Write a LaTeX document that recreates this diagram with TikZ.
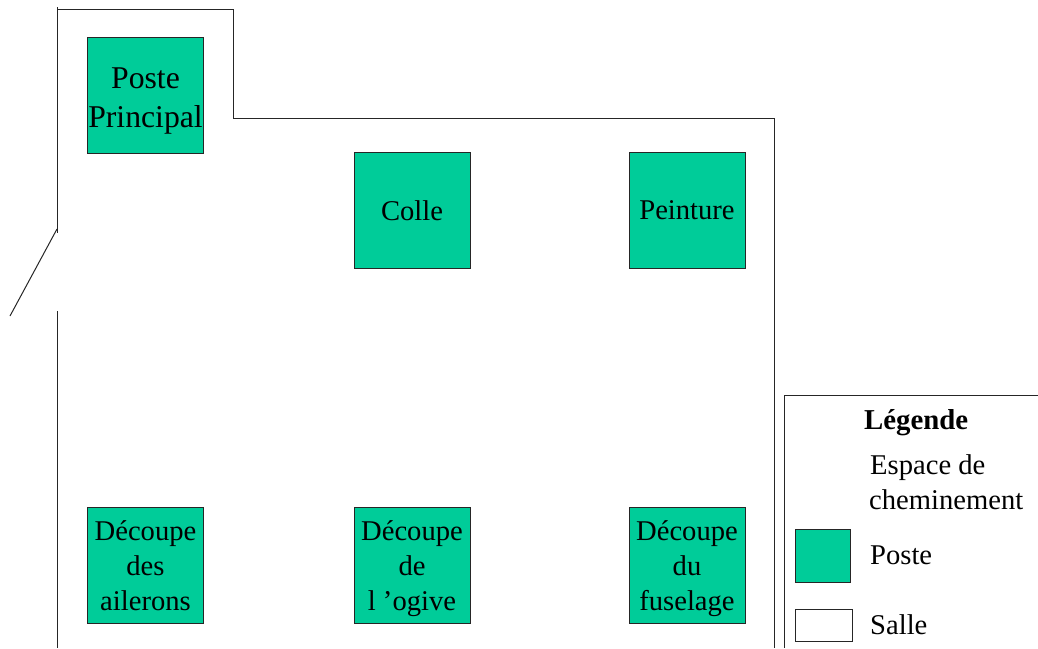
\documentclass[tikz,border=0pt]{standalone}
\usepackage{fontspec}
\setmainfont{Liberation Serif}
\definecolor{poste}{HTML}{00CC99}
\tikzset{
  wall/.style={draw=black!85,line width=1pt},
  postebox/.style={draw=black!85,line width=1pt,fill=poste,minimum width=116pt,minimum height=116pt,inner sep=0pt,align=center,anchor=north west,font=\fontsize{28.6}{35}\selectfont},
  bigbox/.style={postebox,font=\fontsize{31.7}{39}\selectfont},
  legtext/.style={inner sep=0pt,anchor=base west,align=left,font=\fontsize{28.6}{35}\selectfont}
}
\begin{document}
\begin{tikzpicture}[x=1pt,y=-1pt]
\useasboundingbox (0,0) rectangle (1038,648);
% room walls
\draw[wall] (57,7) -- (57,233);
\draw[wall] (57,9) -- (233,9) -- (233,118) -- (774,118) -- (774,648);
\draw[wall] (57,311) -- (57,648);
\draw[wall] (57,229) -- (10,316);
% stations
\node[bigbox] (pp) at (87,37) {\rule{0pt}{31pt}Poste\\Principal};
\node[postebox] (colle) at (353.5,152) {Colle};
\node[postebox] (peinture) at (628.5,152) {Peinture};
\node[postebox] (ailerons) at (87,507) {Découpe\\des\\ailerons};
\node[postebox] (ogive) at (353.5,507) {Découpe\\de\\\smash{l ’ogive}};
\node[postebox] (fuselage) at (628.5,507) {Découpe\\du\\\smash{fuselage}};
% legend
\draw[wall] (1038,395) -- (784,395) -- (784,648);
\node[legtext,font=\fontsize{28.8}{35}\selectfont\bfseries] (legtitle) at (864,429) {Légende};
\node[legtext] (esp1) at (870,474) {Espace de};
\node[legtext] (esp2) at (869,509) {cheminement};
\node[draw=black!85,line width=1pt,fill=poste,minimum width=55.5pt,minimum height=53pt,inner sep=0pt,anchor=north west] (legposte) at (794.5,529) {};
\node[legtext] (lposte) at (870,564) {Poste};
\node[draw=black!85,line width=1pt,fill=white,minimum width=56.5pt,minimum height=32pt,inner sep=0pt,anchor=north west] (legsalle) at (795,609) {};
\node[legtext] (lsalle) at (870,634) {Salle};
\end{tikzpicture}
\end{document}
